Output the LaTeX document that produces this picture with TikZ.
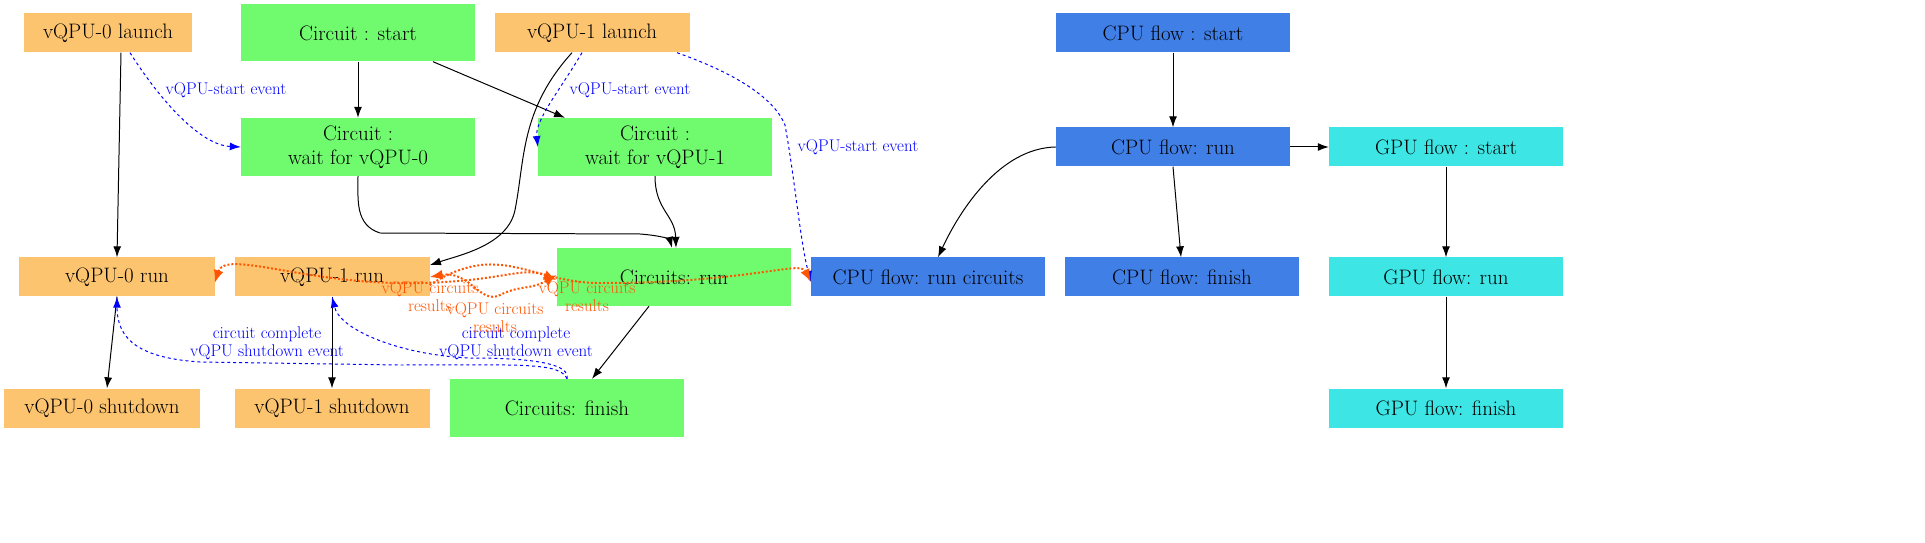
\documentclass[tikz,border=0pt]{standalone}
\usetikzlibrary{arrows.meta}
\definecolor{qo}{HTML}{FCC46F}\definecolor{cg}{HTML}{70FB6F}
\definecolor{pb}{HTML}{3F7FE6}\definecolor{gc}{HTML}{3DE5E5}\definecolor{rc}{HTML}{FF5500}
\begin{document}
\begin{tikzpicture}[x=1bp,y=-1bp,
 every node/.style={font=\fontsize{21}{24}\selectfont},
 box/.style={rectangle,minimum height=39bp,inner sep=0pt,align=center},
 q/.style={box,fill=qo,minimum width=195bp},
 c/.style={box,fill=cg,minimum width=234bp,minimum height=58bp},
 p/.style={box,fill=pb,minimum width=234bp},
 g/.style={box,fill=gc,minimum width=234bp},
 e/.style={-{Latex[length=11pt,width=8pt]},black,line width=1pt},
 ev/.style={-{Latex[length=11pt,width=8pt]},blue,dashed,line width=1pt},
 rs/.style={{Latex[length=13pt,width=10pt]}-{Latex[length=13pt,width=10pt]},rc,dotted,line width=2pt},
 rs1/.style={-{Latex[length=13pt,width=10pt]},rc,dotted,line width=2pt},
 lb/.style={font=\fontsize{17}{18}\selectfont,text=blue,align=center,inner sep=1pt},
 lr/.style={font=\fontsize{17}{18}\selectfont,text=rc,align=center,inner sep=1pt}]
\fill[white] (0,0) rectangle (1925,543);
\node[q,minimum width=167bp] (l0) at (108,33) {vQPU-0 launch};
\node[c,minimum height=57bp] (cs) at (358,33) {Circuit : start};
\node[q] (l1) at (592,33) {vQPU-1 launch};
\node[p] (ps) at (1173,33) {CPU flow : start};
\node[c] (w0) at (358,147) {Circuit :\\wait for vQPU-0};
\node[c] (w1) at (655,147) {Circuit :\\wait for vQPU-1};
\node[p] (pr) at (1173,147) {CPU flow: run};
\node[g] (gs) at (1446,147) {GPU flow : start};
\node[q] (r0) at (117,277) {vQPU-0 run};
\node[q] (r1) at (332,277) {vQPU-1 run};
\node[c] (cr) at (674,277) {Circuits: run};
\node[p] (pc) at (928,277) {CPU flow: run circuits};
\node[p] (pf) at (1182,277) {CPU flow: finish};
\node[g] (gr) at (1446,277) {GPU flow: run};
\node[q] (s0) at (102,408) {vQPU-0 shutdown};
\node[q] (s1) at (332,408) {vQPU-1 shutdown};
\node[c] (cf) at (567,408) {Circuits: finish};
\node[g] (gf) at (1446,408) {GPU flow: finish};
\coordinate (a1) at (430,265);
% black
\draw[e] ([xshift=13bp]l0.south) -- (r0.north);
\draw[e] (cs) -- (w0);
\draw[e] ([xshift=75bp]cs.south) -- ([xshift=-90bp]w1.north);
\draw[e] ([xshift=-20bp]l1.south) .. controls (520,110) and (525,160) .. (515,210) .. controls (508,245) and (460,255) .. (a1);
\draw[e] (w0.south) .. controls (358,200) and (355,225) .. (380,233) -- (640,234) .. controls (665,236) and (670,240) .. ([xshift=-2bp]cr.north);
\draw[e] (w1.south) .. controls (655,210) and (675,215) .. ([xshift=2bp]cr.north);
\draw[e] ([xshift=-25bp]cr.south) -- ([xshift=25bp]cf.north);
\draw[e] (r0.south) -- ([xshift=5bp]s0.north);
\draw[e] (r1) -- (s1);
\draw[e] (ps) -- (pr);
\draw[e] (pr) -- (gs);
\draw[e] (pr.south) -- ([xshift=-1bp]pf.north);
\draw[e] (pr.west) .. controls (1000,148) and (960,210) .. ([xshift=10bp]pc.north);
\draw[e] (gs) -- (gr);
\draw[e] (gr) -- (gf);
% blue
\draw[ev] ([xshift=22bp]l0.south) .. controls (160,100) and (200,145) .. (w0.west);
\node[lb] (v0) at (226,90) {vQPU-start event};
\draw[ev] ([xshift=-10bp]l1.south) .. controls (560,90) and (535,120) .. (w1.west);
\node[lb] (v1) at (630,90) {vQPU-start event};
\draw[ev] ([xshift=85bp]l1.south) .. controls (740,75) and (775,100) .. (785,125) .. controls (795,180) and (800,240) .. ([yshift=-5bp]pc.west);
\node[lb] (v2) at (858,147) {vQPU-start event};
\draw[ev] (cf.north) .. controls (560,362) and (520,365) .. (400,365) -- (200,362) .. controls (140,358) and (117,340) .. (r0.south);
\node[lb] (t0) at (267,343) {circuit complete\\vQPU shutdown event};
\draw[ev] (cf.north) .. controls (570,365) and (540,358) .. (470,358) .. controls (400,355) and (340,330) .. (r1.south);
\node[lb] (t1) at (516,343) {circuit complete\\vQPU shutdown event};
% orange dotted
\draw[rs] ([yshift=-6bp]r0.east) .. controls (225,250) and (300,282) .. (400,283) .. controls (500,284) and (520,265) .. ([yshift=-3bp]cr.west);
\node[lr] at (430,297) {vQPU circuits\\results};
\draw[rs1] ([yshift=-8bp]r1.east) .. controls (500,240) and (530,283) .. (600,283) .. controls (750,283) and (800,260) .. ([yshift=-5bp]pc.west);
\node[lr] at (587,297) {vQPU circuits\\results};
\draw[rs] (r1.east) .. controls (470,270) and (480,305) .. (500,295) .. controls (520,285) and (530,290) .. ([yshift=2bp]cr.west);
\node[lr] at (495,318) {vQPU circuits\\results};
\pgfresetboundingbox
\useasboundingbox (0,0) rectangle (1925,543);
\end{tikzpicture}
\end{document}
